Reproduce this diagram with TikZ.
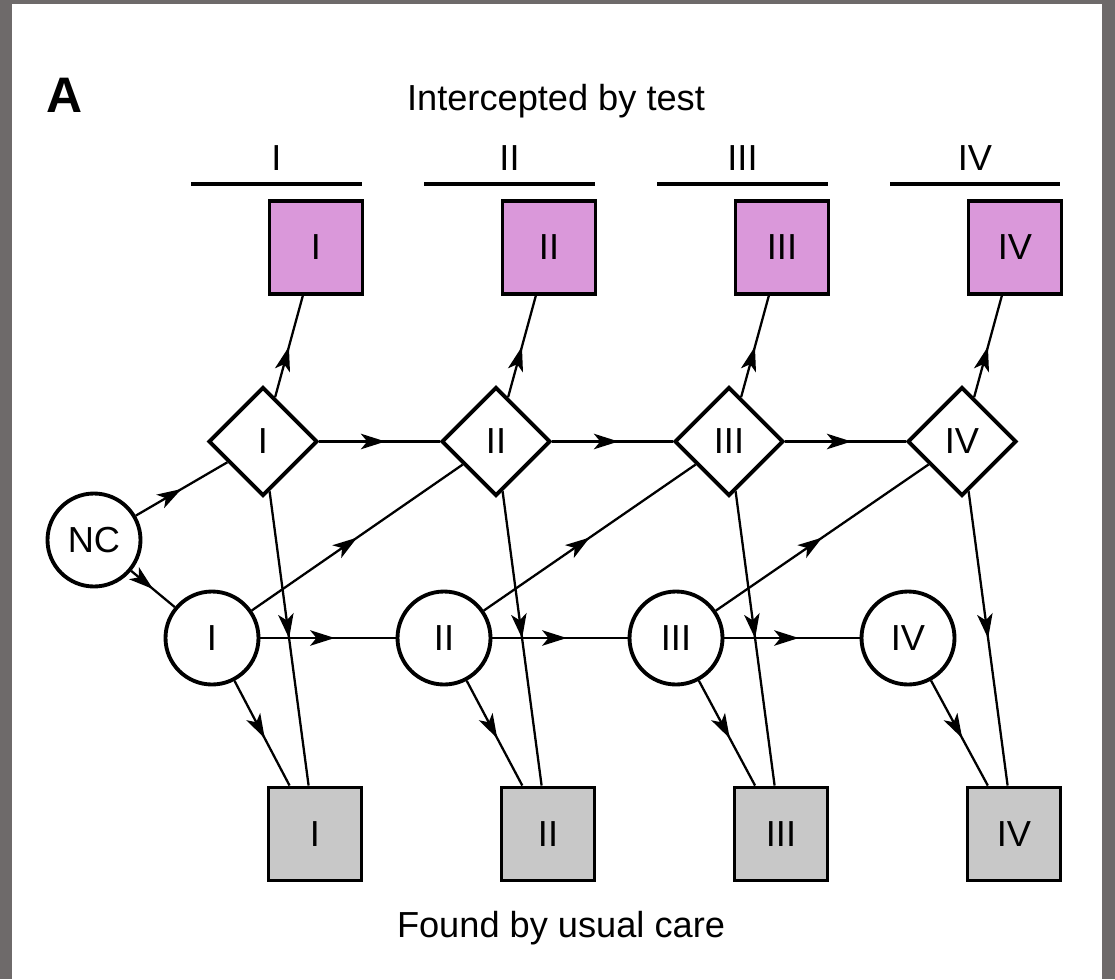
\documentclass[tikz,border=0pt]{standalone}
\usepackage{fontspec}
\setmainfont{Liberation Sans}
\usepackage{xcolor}
\usepackage{tikz}
\usetikzlibrary{arrows.meta,positioning,calc,shapes.geometric,decorations.markings}

\definecolor{testpink}{RGB}{218,152,218}
\definecolor{caregray}{RGB}{200,200,200}
\definecolor{framegray}{RGB}{110,106,106}

\begin{document}
\begin{tikzpicture}[
  font=\fontsize{10.3}{12}\selectfont,
  on grid,
  stage/.style={circle, draw, line width=1.1pt, fill=white, minimum size=9.3mm, inner sep=0pt},
  tst/.style={diamond, draw, line width=1.1pt, fill=white, minimum size=10.9mm, inner sep=0pt},
  found/.style={rectangle, draw, line width=1.1pt, minimum size=9.3mm, inner sep=0pt},
  flow/.style={line width=0.65pt, postaction={decorate},
    decoration={markings, mark=at position #1 with {\arrow{Stealth[length=7pt, width=4.4pt, inset=1.8pt]}}}},
  flow/.default=0.5,
  bar/.style={line width=1.3pt},
]
  % frame of the scan
  \fill[framegray] (0,0) rectangle (11.15,-9.79);
  \fill[white] (0.12,-0.04) rectangle (11.02,-9.79);

  \node[font=\fontsize{14.2}{16}\selectfont\bfseries, anchor=base] (panel) at (0.65,-1.13) {A};
  \node[anchor=base] (toptitle) at (5.56,-1.10) {Intercepted by test};
  \node[anchor=base] (bottitle) at (5.61,-9.37) {Found by usual care};

  % stage headers
  \draw[bar] (1.91,-1.84) -- node[above] (h1) {I} (3.62,-1.84);
  \draw[bar] (4.24,-1.84) -- node[above] (h2) {II} (5.95,-1.84);
  \draw[bar] (6.57,-1.84) -- node[above] (h3) {III} (8.28,-1.84);
  \draw[bar] (8.90,-1.84) -- node[above] (h4) {IV} (10.60,-1.84);

  % preclinical stages
  \node[stage] (nc) at (0.94,-5.40) {NC};
  \node[stage] (c1) at (2.12,-6.38) {I};
  \node[stage, right=2.32cm of c1] (c2) {II};
  \node[stage, right=2.32cm of c2] (c3) {III};
  \node[stage, right=2.32cm of c3] (c4) {IV};

  % detectable by test
  \node[tst] (t1) at (2.63,-4.415) {I};
  \node[tst, right=2.33cm of t1] (t2) {II};
  \node[tst, right=2.33cm of t2] (t3) {III};
  \node[tst, right=2.33cm of t3] (t4) {IV};

  % intercepted by test
  \node[found, fill=testpink, above right=1.94cm and 0.53cm of t1] (p1) {I};
  \node[found, fill=testpink, above right=1.94cm and 0.53cm of t2] (p2) {II};
  \node[found, fill=testpink, above right=1.94cm and 0.53cm of t3] (p3) {III};
  \node[found, fill=testpink, above right=1.94cm and 0.53cm of t4] (p4) {IV};

  % found by usual care
  \node[found, fill=caregray, below right=3.925cm and 0.52cm of t1] (u1) {I};
  \node[found, fill=caregray, below right=3.925cm and 0.52cm of t2] (u2) {II};
  \node[found, fill=caregray, below right=3.925cm and 0.52cm of t3] (u3) {III};
  \node[found, fill=caregray, below right=3.925cm and 0.52cm of t4] (u4) {IV};

  % onset
  \draw[flow] (nc) -- (t1);
  \draw[flow] (nc) -- (c1);

  % test-detectable path
  \draw[flow=0.55] (t1) -- (t2);
  \draw[flow=0.55] (t2) -- (t3);
  \draw[flow=0.55] (t3) -- (t4);
  \draw[flow] (t1) -- (p1);
  \draw[flow] (t2) -- (p2);
  \draw[flow] (t3) -- (p3);
  \draw[flow] (t4) -- (p4);
  \draw[flow] (t1) -- (u1);
  \draw[flow] (t2) -- (u2);
  \draw[flow] (t3) -- (u3);
  \draw[flow] (t4) -- (u4);

  % progression without test
  \draw[flow=0.55] (c1) -- (c2);
  \draw[flow=0.55] (c2) -- (c3);
  \draw[flow=0.55] (c3) -- (c4);
  \draw[flow] (c1) -- (t2);
  \draw[flow] (c2) -- (t3);
  \draw[flow] (c3) -- (t4);
  \draw[flow=0.55] (c1) -- (u1);
  \draw[flow=0.55] (c2) -- (u2);
  \draw[flow=0.55] (c3) -- (u3);
  \draw[flow=0.55] (c4) -- (u4);
\end{tikzpicture}
\end{document}
